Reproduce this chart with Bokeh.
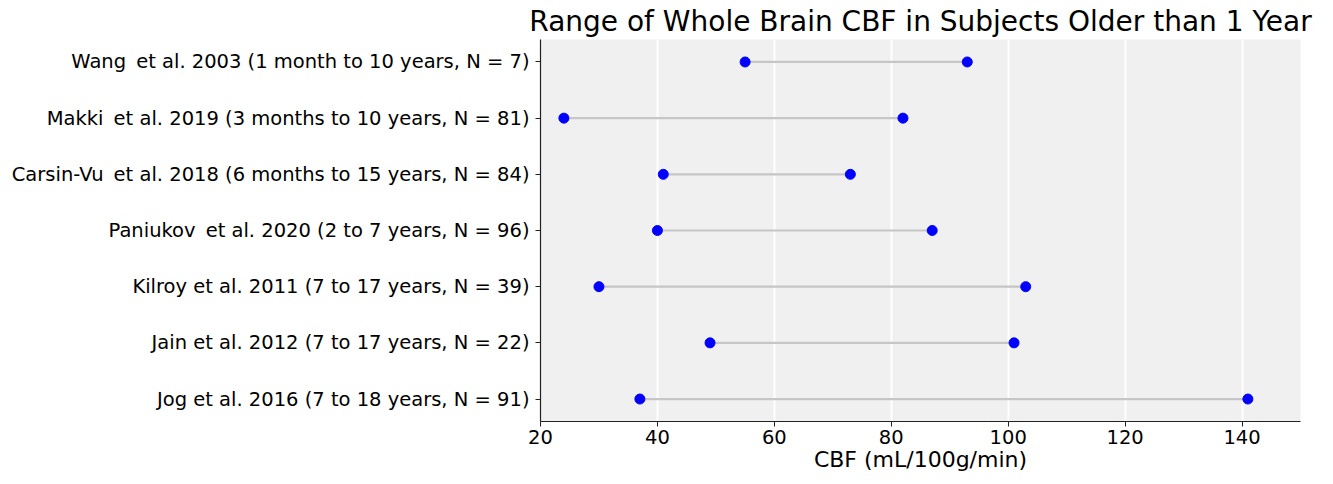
from bokeh.plotting import figure
from bokeh.models import Range1d, FixedTicker, ColumnDataSource
from bokeh.embed import file_html
from bokeh.resources import INLINE

studies = [
    "Wang\u2009 et al. 2003 (1 month to 10 years, N = 7)",
    "Makki\u2009 et al. 2019 (3 months to 10 years, N = 81)",
    "Carsin-Vu\u2009 et al. 2018 (6 months to 15 years, N = 84)",
    "Paniukov\u2009 et al. 2020 (2 to 7 years, N = 96)",
    "Kilroy et al. 2011 (7 to 17 years, N = 39)",
    "Jain et al. 2012 (7 to 17 years, N = 22)",
    "Jog et al. 2016 (7 to 18 years, N = 91)",
]
cbf_min = [55, 24, 41, 40, 30, 49, 37]
cbf_max = [93, 82, 73, 87, 103, 101, 141]
x_ticks = [20, 40, 60, 80, 100, 120, 140]

n = len(studies)
ypos = [n - 1 - i for i in range(n)]
src = ColumnDataSource(dict(y=ypos, lo=cbf_min, hi=cbf_max))

FONT = "DejaVu Sans"

p = figure(
    output_backend="svg", toolbar_location=None,
    frame_width=760, frame_height=382,
    min_border_left=540, min_border_right=17, min_border_top=39, min_border_bottom=40,
    x_range=Range1d(20, 150), y_range=Range1d(-0.4, n - 1 + 0.4),
    title="Range of Whole Brain CBF in Subjects Older than 1 Year",
)
p.background_fill_color = "#f0f0f0"
p.border_fill_color = "white"
p.outline_line_color = None

p.segment(x0="lo", x1="hi", y0="y", y1="y", source=src, line_color="#c6c6c6", line_width=2.2)
p.scatter(x="lo", y="y", source=src, size=10, fill_color="#0000ff", line_color="#0000ff")
p.scatter(x="hi", y="y", source=src, size=10, fill_color="#0000ff", line_color="#0000ff")

p.title.text_font = FONT
p.title.text_font_size = "28px"
p.title.text_font_style = "normal"
p.title.align = "center"
p.title.text_color = "black"
p.title.offset = 0
p.title.standoff = 3

p.xaxis.ticker = FixedTicker(ticks=x_ticks)
p.xaxis.axis_label = "CBF (mL/100g/min)"
p.yaxis.ticker = FixedTicker(ticks=ypos)
p.yaxis.major_label_overrides = {y: s for y, s in zip(ypos, studies)}

for ax in (p.xaxis, p.yaxis):
    ax.major_label_text_font = FONT
    ax.major_label_text_font_size = "19.5px"
    ax.major_label_text_color = "black"
    ax.axis_line_color = "#222222"
    ax.axis_line_width = 1.2
    ax.major_tick_line_color = "#222222"
    ax.major_tick_out = 5
    ax.major_tick_in = 0
    ax.minor_tick_line_color = None
    ax.axis_label_text_font = FONT
    ax.axis_label_text_font_style = "normal"
    ax.axis_label_text_font_size = "22px"
    ax.axis_label_text_color = "black"
p.xaxis.major_label_standoff = 3
p.xaxis.axis_label_standoff = 0
p.yaxis.major_label_standoff = 6

p.xgrid.grid_line_color = "white"
p.xgrid.grid_line_width = 2
p.ygrid.grid_line_color = None

open("out.html", "w").write(file_html(p, INLINE))
